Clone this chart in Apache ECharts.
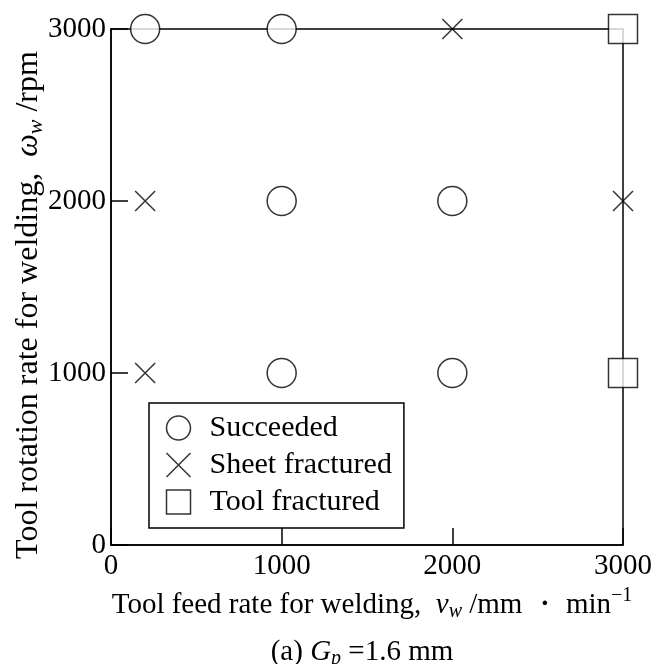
<!DOCTYPE html>
<html><head><meta charset="utf-8">
<script src="https://cdn.jsdelivr.net/npm/echarts@6/dist/echarts.min.js"></script>
<style>html,body{margin:0;padding:0;background:#fff}#c{width:657px;height:664px}</style>
</head><body><div id="c"></div>
<script>
const xTicks = [0, 1000, 2000, 3000];
const yTicks = [0, 1000, 2000, 3000];
const succeeded = [[200, 3000], [1000, 3000], [1000, 2000], [2000, 2000], [1000, 1000], [2000, 1000]];
const sheetFractured = [[2000, 3000], [200, 2000], [3000, 2000], [200, 1000]];
const toolFractured = [[3000, 3000], [3000, 1000]];
const seriesNames = ['Succeeded', 'Sheet fractured', 'Tool fractured'];

const F = 'Liberation Serif, Times New Roman, serif';
const FS = 29;
const X_PATH = 'path://M0,0L10,10M10,0L0,10';
const chart = echarts.init(document.getElementById('c'));
const mk = { color: '#fff', borderColor: '#000', borderWidth: 1.5 };
const richOf = (fs) => ({
  i: { fontFamily: F, fontSize: fs, fontStyle: 'italic', color: '#000' },
  sub: { fontFamily: F, fontSize: Math.round(fs * 0.69), fontStyle: 'italic', color: '#000', padding: [Math.round(fs * 0.48), 0, 0, 0] },
  sup: { fontFamily: F, fontSize: Math.round(fs * 0.69), color: '#000', padding: [0, 0, Math.round(fs * 0.62), 0] }
});
chart.setOption({
  animation: false,
  backgroundColor: '#fff',
  textStyle: { fontFamily: F, color: '#000' },
  grid: { left: 111, right: 34, top: 29, bottom: 119, show: true, borderColor: '#000', borderWidth: 1.5, containLabel: false, outerBoundsMode: 'none' },
  title: {
    text: '(a) {i|G}{sub|p} =1.6 mm',
    left: 357, top: 630, textAlign: 'center',
    textStyle: { fontFamily: F, fontSize: FS, fontWeight: 'normal', color: '#000', rich: richOf(FS) }
  },
  legend: {
    orient: 'vertical', left: 149, top: 403,
    padding: [10, 12, 11, 15],
    itemGap: 7, itemWidth: 24, itemHeight: 24,
    backgroundColor: '#fff', borderColor: '#000', borderWidth: 1.5, borderRadius: 0,
    textStyle: { fontFamily: F, fontSize: 30, color: '#000', padding: [0, 0, 0, 14] },
    data: [
      { name: seriesNames[0], icon: 'circle', itemStyle: mk },
      { name: seriesNames[1], icon: X_PATH, itemStyle: { color: 'none', borderColor: '#000', borderWidth: 1.5 } },
      { name: seriesNames[2], icon: 'rect', itemStyle: mk }
    ]
  },
  xAxis: {
    type: 'value', min: 0, max: 3000, interval: 1000,
    name: 'Tool feed rate for welding,  {i|v}{sub|w} /mm ・ min{sup|−1}',
    nameLocation: 'middle', nameGap: 41, nameMoveOverlap: false,
    nameTextStyle: { fontFamily: F, fontSize: FS, color: '#000', padding: [0, 0, 0, 10], rich: richOf(FS) },
    axisLine: { lineStyle: { color: '#000', width: 1.5 } },
    axisTick: { inside: true, length: 17, lineStyle: { color: '#000', width: 1.5 } },
    axisLabel: { fontFamily: F, fontSize: FS, color: '#000', margin: 7, formatter: v => xTicks.includes(v) ? String(v) : '' },
    splitLine: { show: false }
  },
  yAxis: {
    type: 'value', min: 0, max: 3000, interval: 1000,
    name: 'Tool rotation rate for welding,  {i|ω}{sub|w} /rpm',
    nameLocation: 'middle', nameGap: 64, nameRotate: 90, nameMoveOverlap: false,
    nameTextStyle: { fontFamily: F, fontSize: 32, color: '#000', padding: [0, 36, 0, 0], rich: richOf(32) },
    axisLine: { lineStyle: { color: '#000', width: 1.5 } },
    axisTick: { inside: true, length: 17, lineStyle: { color: '#000', width: 1.5 } },
    axisLabel: { fontFamily: F, fontSize: FS, color: '#000', margin: 5, formatter: v => yTicks.includes(v) ? String(v) : '' },
    splitLine: { show: false }
  },
  series: [
    { name: seriesNames[0], type: 'scatter', data: succeeded, symbol: 'circle', symbolSize: 29, itemStyle: mk, z: 5 },
    { name: seriesNames[1], type: 'scatter', data: sheetFractured, symbol: X_PATH, symbolSize: 20, itemStyle: { color: 'none', borderColor: '#000', borderWidth: 1.5 }, z: 5 },
    { name: seriesNames[2], type: 'scatter', data: toolFractured, symbol: 'rect', symbolSize: 29, itemStyle: mk, z: 5 }
  ]
});
</script></body></html>
